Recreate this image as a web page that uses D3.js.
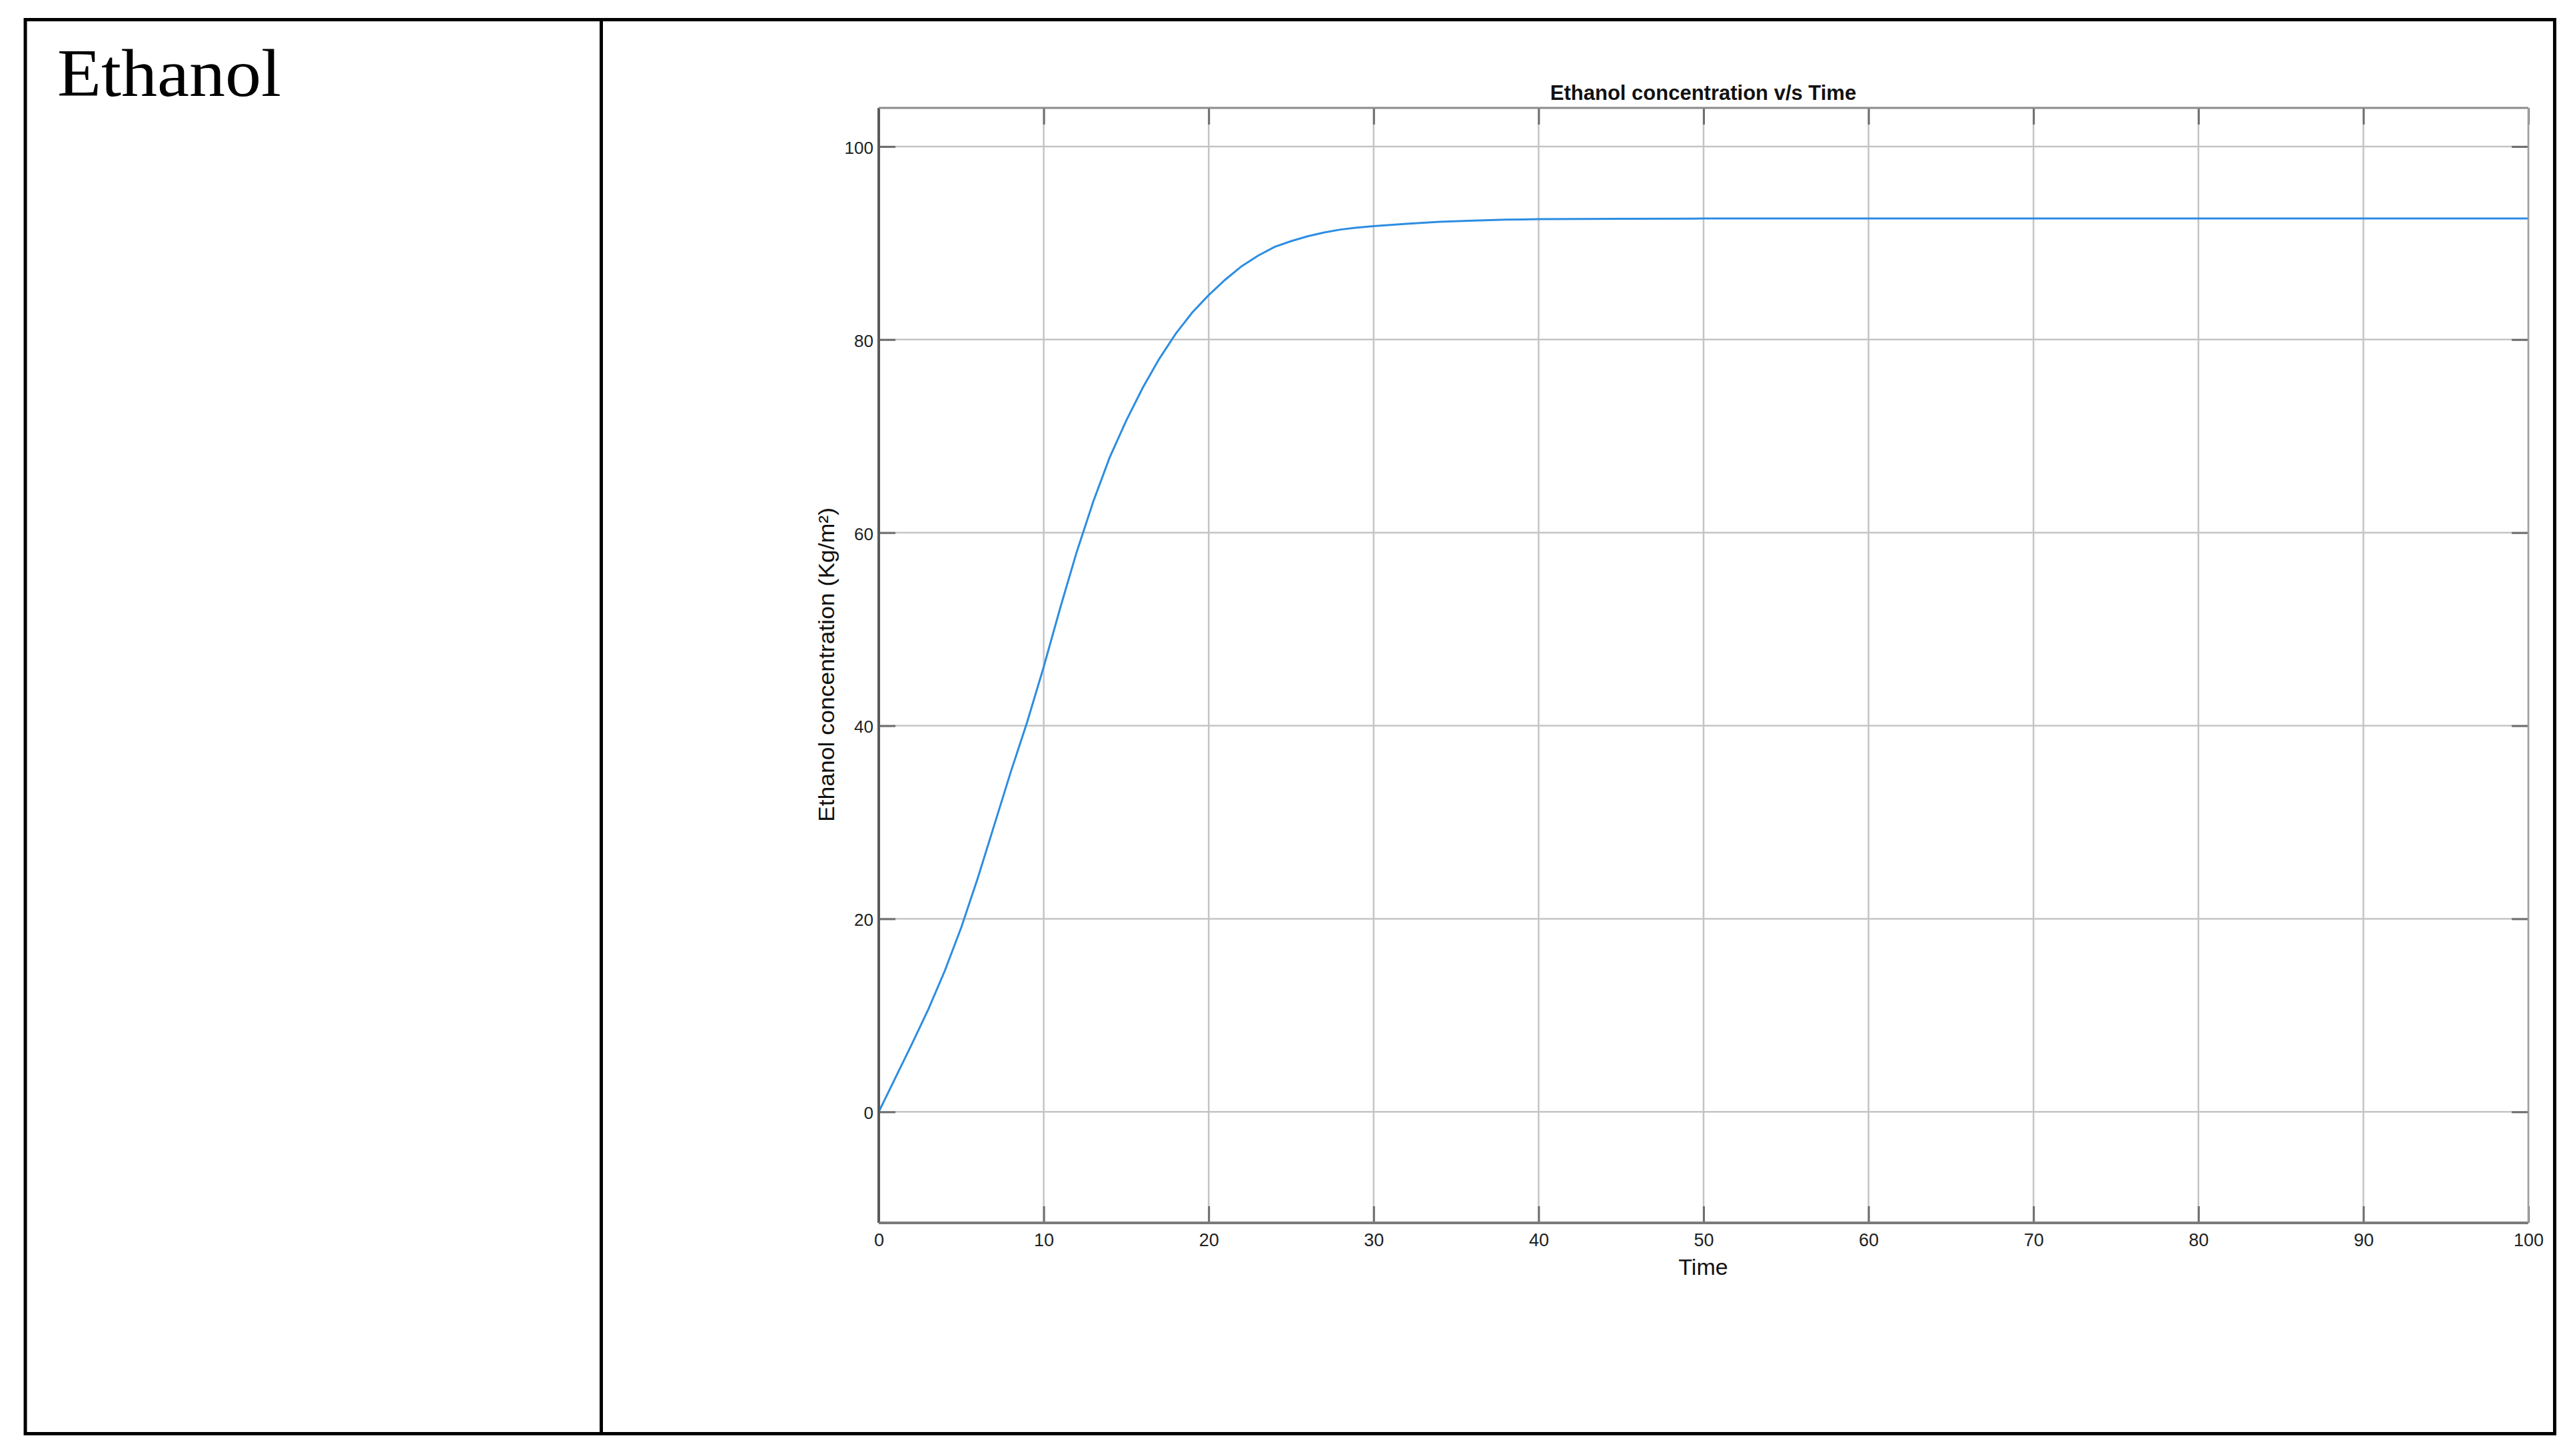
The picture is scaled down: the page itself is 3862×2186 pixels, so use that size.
<!DOCTYPE html>
<html>
<head>
<meta charset="utf-8">
<script src="https://cdn.jsdelivr.net/npm/d3@7"></script>
<style>
  html, body { margin: 0; padding: 0; background: #fff; }
  svg { display: block; }
</style>
</head>
<body>
<svg id="chart" width="3862" height="2186"></svg>
<script>
// ---- data ----
const rowLabel = "Ethanol";
const chartTitle = "Ethanol concentration v/s Time";
const xLabel = "Time";
const yLabel = "Ethanol concentration (Kg/m²)";
const time = [0,1,2,3,4,5,6,7,8,9,10,11,12,13,14,15,16,17,18,19,20,21,22,23,24,25,26,27,28,29,30,32,34,36,38,40,45,50,60,70,80,90,100];
const ethanol = [0,3.5,7.0,10.6,14.6,19.1,24.2,29.7,35.2,40.4,46.1,52.2,58.0,63.2,67.8,71.6,75.0,78.0,80.6,82.8,84.6,86.2,87.6,88.7,89.6,90.2,90.7,91.1,91.4,91.6,91.75,92.0,92.2,92.33,92.42,92.47,92.52,92.54,92.55,92.55,92.55,92.55,92.55];
const xTicks = [0,10,20,30,40,50,60,70,80,90,100];
const yTicks = [0,20,40,60,80,100];
const xDomain = [0, 100];
const yDomain = [-11.5, 104];

const svg = d3.select("#chart");

// ---- table frame ----
const frame = {left: 38, top: 29.5, right: 3834.5, bottom: 2152.5, divider: 902.5};
svg.append("rect")
  .attr("x", frame.left).attr("y", frame.top)
  .attr("width", frame.right - frame.left).attr("height", frame.bottom - frame.top)
  .attr("fill", "none").attr("stroke", "#000").attr("stroke-width", 5);
svg.append("line")
  .attr("x1", frame.divider).attr("x2", frame.divider)
  .attr("y1", frame.top).attr("y2", frame.bottom)
  .attr("stroke", "#000").attr("stroke-width", 5);
svg.append("text")
  .attr("x", 86).attr("y", 144)
  .attr("font-family", "'Liberation Serif', 'DejaVu Serif', serif")
  .attr("font-size", 101)
  .attr("textLength", 336).attr("lengthAdjust", "spacingAndGlyphs")
  .attr("fill", "#000")
  .text(rowLabel);

// ---- plot ----
const plot = {left: 1319, right: 3795, top: 162, bottom: 1836};
const x = d3.scaleLinear().domain(xDomain).range([plot.left, plot.right]);
const y = d3.scaleLinear().domain(yDomain).range([plot.bottom, plot.top]);

const g = svg.append("g");
const gridColor = "#c4c4c4";
// grid
g.append("g").selectAll("line").data(xTicks).join("line")
  .attr("x1", d => x(d)).attr("x2", d => x(d))
  .attr("y1", plot.top).attr("y2", plot.bottom)
  .attr("stroke", gridColor).attr("stroke-width", 2.5);
g.append("g").selectAll("line").data(yTicks).join("line")
  .attr("x1", plot.left).attr("x2", plot.right)
  .attr("y1", d => y(d)).attr("y2", d => y(d))
  .attr("stroke", gridColor).attr("stroke-width", 2.5);

// curve
const line = d3.line().x((d, i) => x(time[i])).y(d => y(d)).curve(d3.curveLinear);
g.append("path").datum(ethanol)
  .attr("d", line)
  .attr("fill", "none")
  .attr("stroke", "#2c8de2")
  .attr("stroke-width", 3);

// axes via d3 axis generators
const fontSans = "'Liberation Sans', Arial, Helvetica, sans-serif";
const axisColor = "#6e6e6e";
function styleAxis(sel) {
  sel.select(".domain").remove();
  sel.selectAll(".tick line").attr("stroke", axisColor).attr("stroke-width", 3);
  sel.selectAll(".tick text").attr("fill", "#222").attr("font-family", fontSans);
}
const xAxis = d3.axisBottom(x).tickValues(xTicks).tickFormat(d3.format("d")).tickSizeInner(-25).tickSizeOuter(0).tickPadding(20);
g.append("g").attr("transform", `translate(0,${plot.bottom})`).call(xAxis)
  .call(styleAxis)
  .call(s => s.selectAll(".tick text").attr("font-size", 27).attr("dy", "0.71em").attr("y", 16));
const xTop = d3.axisTop(x).tickValues(xTicks).tickFormat("").tickSizeInner(-25).tickSizeOuter(0);
g.append("g").attr("transform", `translate(0,${plot.top})`).call(xTop).call(styleAxis);

const yAxis = d3.axisLeft(y).tickValues(yTicks).tickFormat(d3.format("d")).tickSizeInner(-25).tickSizeOuter(0).tickPadding(8);
g.append("g").attr("transform", `translate(${plot.left},0)`).call(yAxis)
  .call(styleAxis)
  .call(s => s.selectAll(".tick text").attr("font-size", 26).attr("x", -8).attr("dy", "0.40em"));
const yRight = d3.axisRight(y).tickValues(yTicks).tickFormat("").tickSizeInner(-25).tickSizeOuter(0);
g.append("g").attr("transform", `translate(${plot.right},0)`).call(yRight).call(styleAxis);

// box
g.append("line").attr("x1", plot.left).attr("x2", plot.left).attr("y1", plot.top).attr("y2", plot.bottom)
  .attr("stroke", "#5a5a5a").attr("stroke-width", 4);
g.append("line").attr("x1", plot.left).attr("x2", plot.right).attr("y1", plot.bottom).attr("y2", plot.bottom)
  .attr("stroke", "#7a7a7a").attr("stroke-width", 4);
g.append("line").attr("x1", plot.left).attr("x2", plot.right).attr("y1", plot.top).attr("y2", plot.top)
  .attr("stroke", "#8a8a8a").attr("stroke-width", 3);
g.append("line").attr("x1", plot.right).attr("x2", plot.right).attr("y1", plot.top).attr("y2", plot.bottom)
  .attr("stroke", "#a0a0a0").attr("stroke-width", 2.5);

// title
svg.append("text")
  .attr("x", 2556.5).attr("y", 150)
  .attr("text-anchor", "middle")
  .attr("font-family", fontSans).attr("font-weight", "bold").attr("font-size", 31)
  .attr("fill", "#111")
  .text(chartTitle);

// x label
svg.append("text")
  .attr("x", 2556.5).attr("y", 1914)
  .attr("text-anchor", "middle")
  .attr("font-family", fontSans).attr("font-size", 34)
  .attr("fill", "#111")
  .text(xLabel);

// y label
svg.append("text")
  .attr("transform", "translate(1252,998) rotate(-90)")
  .attr("text-anchor", "middle")
  .attr("font-family", fontSans).attr("font-size", 33)
  .attr("textLength", 472).attr("lengthAdjust", "spacingAndGlyphs")
  .attr("fill", "#111")
  .text(yLabel);
</script>
</body>
</html>
